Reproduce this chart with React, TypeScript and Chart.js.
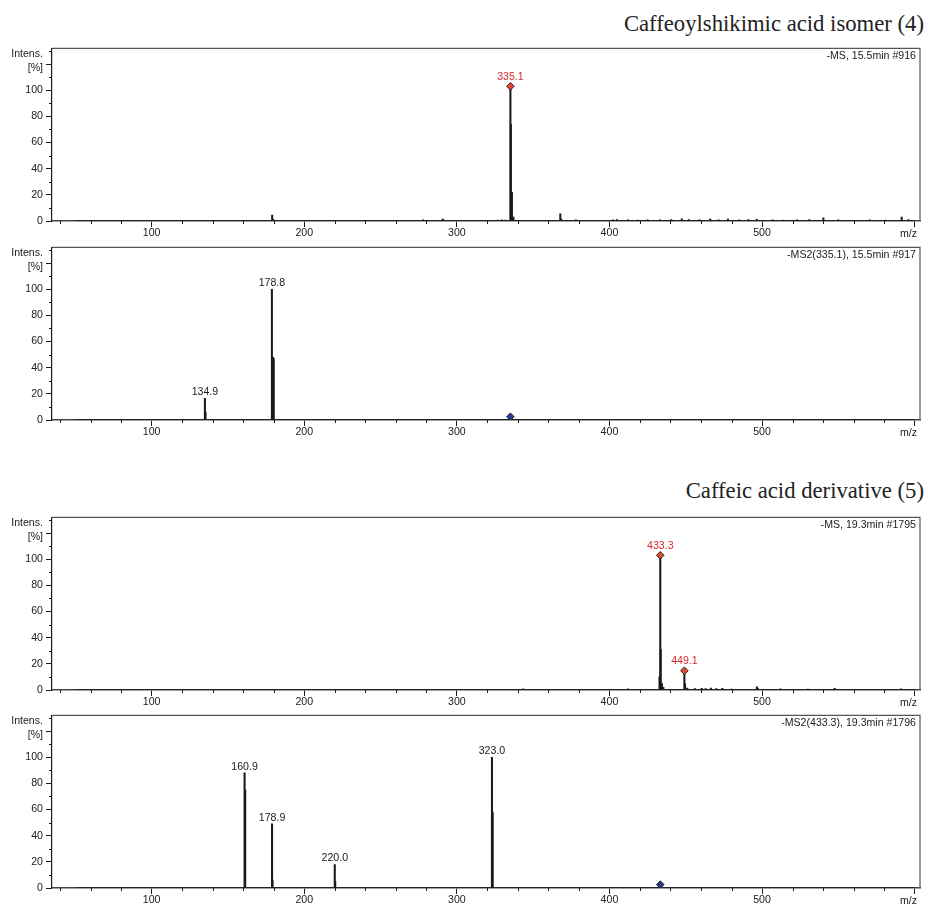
import React, { useEffect, useRef } from 'react';
import { Chart, registerables } from 'chart.js';

Chart.register(...registerables);

// ---------- data ----------
const title1 = 'Caffeoylshikimic acid isomer (4)';
const title2 = 'Caffeic acid derivative (5)';

// Panel 1: -MS, 15.5min #916
const p1Info = '-MS, 15.5min #916';
const p1Mz = [179.0, 179.6, 277.8, 290.6, 291.3, 327.0, 329.5, 331.8, 335.1, 335.4, 336.1, 337.1, 340.0, 367.8, 368.4, 378.0, 402.5, 405.0, 412.0, 418.5, 425.0, 433.0, 440.5, 447.4, 452.0, 459.0, 466.0, 471.5, 477.7, 485.0, 491.0, 496.5, 507.0, 514.0, 523.0, 531.0, 540.2, 550.0, 560.0, 570.5, 581.0, 591.5, 596.0];
const p1Int = [4.5, 1.2, 0.8, 1.5, 0.8, 0.7, 0.8, 0.7, 103, 74, 22, 3, 0.6, 5.5, 1.5, 0.8, 0.8, 1.0, 0.8, 0.7, 0.9, 0.8, 1.0, 1.6, 1.0, 0.8, 1.5, 0.9, 1.4, 0.8, 1.0, 1.2, 0.8, 0.7, 0.8, 1.0, 2.5, 0.8, 0.6, 0.8, 0.7, 3.0, 1.0];
const p1MarkMz = [335.1];
const p1MarkInt = [103];
const p1LabelMz = [335.1];
const p1LabelInt = [103];
const p1LabelText = ['335.1'];

// Panel 2: -MS2(335.1), 15.5min #917
const p2Info = '-MS2(335.1), 15.5min #917';
const p2Mz = [134.9, 135.3, 178.8, 179.5, 180.0];
const p2Int = [16.5, 6, 100, 48, 47];
const p2MarkMz = [335.1];
const p2MarkInt = [2.5];
const p2LabelMz = [134.9, 178.8];
const p2LabelInt = [16.5, 100];
const p2LabelText = ['134.9', '178.8'];

// Panel 3: -MS, 19.3min #1795
const p3Info = '-MS, 19.3min #1795';
const p3Mz = [343.5, 398.0, 412.0, 432.8, 433.3, 433.6, 434.4, 435.3, 449.1, 449.5, 451.0, 456.0, 460.5, 463.0, 466.5, 470.0, 474.0, 480.0, 487.0, 496.6, 497.2, 504.0, 512.0, 521.0, 530.0, 538.0, 547.6, 556.0, 565.0, 574.0, 582.0, 591.0, 598.0];
const p3Int = [0.8, 0.5, 0.8, 10, 103, 31, 5, 2, 14.7, 5, 1.5, 1.0, 1.2, 1.0, 1.4, 1.0, 1.2, 0.7, 0.6, 2.5, 1.2, 0.6, 0.8, 0.6, 0.7, 0.6, 1.2, 0.6, 0.6, 0.5, 0.6, 0.8, 0.6];
const p3MarkMz = [433.3, 449.1];
const p3MarkInt = [103, 14.7];
const p3LabelMz = [433.3, 449.1];
const p3LabelInt = [103, 14.7];
const p3LabelText = ['433.3', '449.1'];

// Panel 4: -MS2(433.3), 19.3min #1796
const p4Info = '-MS2(433.3), 19.3min #1796';
const p4Mz = [160.9, 161.3, 178.9, 179.2, 220.0, 220.3, 323.0, 323.5];
const p4Int = [88, 75, 49, 6, 18, 5, 100, 58];
const p4MarkMz = [433.3];
const p4MarkInt = [2.6];
const p4LabelMz = [160.9, 178.9, 220.0, 323.0];
const p4LabelInt = [88, 49, 18, 100];
const p4LabelText = ['160.9', '178.9', '220.0', '323.0'];

// scan range (baseline)
const scanMz = [50, 600];

// axes
const xMin = 34.7;
const xMax = 603.5;
const yMax = 132;
const xMajorTicks = [100, 200, 300, 400, 500, 600];
const xTickLabels = ['100', '200', '300', '400', '500', ''];
const xMinorTicks = [40, 60, 80, 120, 140, 160, 180, 220, 240, 260, 280, 320, 340, 360, 380, 420, 440, 460, 480, 520, 540, 560, 580];
const yMajorTicks = [0, 20, 40, 60, 80, 100, 120];
const yTickLabels = ['0', '20', '40', '60', '80', '100', ''];
const yMinorTicks = [10, 30, 50, 70, 90, 110, 130];

// ---------- styles ----------
const SANS = '"Liberation Sans", Arial, Helvetica, sans-serif';
const SERIF = '"Liberation Serif", "Times New Roman", serif';
const FS = 10.6;
const RED = '#d42a2a';
const RED_FILL = '#e5482c';
const NAVY_FILL = '#2b3990';
const INK = '#1a1a1a';
const PAD_TOP = 8;
const AREA_H = 174;
const XAXIS_H = 22;
const YAXIS_W = 52;
const PAD_RIGHT = 8;

type PanelCfg = {
  frameTop: number;
  info: string;
  mz: number[];
  inten: number[];
  markMz: number[];
  markInt: number[];
  markFill: string;
  labelMz: number[];
  labelInt: number[];
  labelText: string[];
  labelColor: string;
  labelOffset: number;
};

const panels: PanelCfg[] = [
  { frameTop: 47, info: p1Info, mz: p1Mz, inten: p1Int, markMz: p1MarkMz, markInt: p1MarkInt, markFill: RED_FILL, labelMz: p1LabelMz, labelInt: p1LabelInt, labelText: p1LabelText, labelColor: RED, labelOffset: 9.5 },
  { frameTop: 246, info: p2Info, mz: p2Mz, inten: p2Int, markMz: p2MarkMz, markInt: p2MarkInt, markFill: NAVY_FILL, labelMz: p2LabelMz, labelInt: p2LabelInt, labelText: p2LabelText, labelColor: INK, labelOffset: 6 },
  { frameTop: 516, info: p3Info, mz: p3Mz, inten: p3Int, markMz: p3MarkMz, markInt: p3MarkInt, markFill: RED_FILL, labelMz: p3LabelMz, labelInt: p3LabelInt, labelText: p3LabelText, labelColor: RED, labelOffset: 9.5 },
  { frameTop: 714, info: p4Info, mz: p4Mz, inten: p4Int, markMz: p4MarkMz, markInt: p4MarkInt, markFill: NAVY_FILL, labelMz: p4LabelMz, labelInt: p4LabelInt, labelText: p4LabelText, labelColor: INK, labelOffset: 6 },
];

function SpectrumPanel({ cfg }: { cfg: PanelCfg }) {
  const ref = useRef<HTMLCanvasElement | null>(null);

  useEffect(() => {
    const canvas = ref.current;
    if (!canvas) return;

    const decor = {
      id: 'decor',
      afterDraw(chart: any) {
        const { ctx, chartArea: ca, scales } = chart;
        const x = scales.x;
        const y = scales.y;
        ctx.save();
        // frame top/right
        ctx.strokeStyle = '#555';
        ctx.lineWidth = 1.2;
        ctx.beginPath();
        ctx.moveTo(ca.left, ca.top);
        ctx.lineTo(ca.right, ca.top);
        ctx.lineTo(ca.right, ca.bottom);
        ctx.stroke();
        // minor ticks
        ctx.strokeStyle = INK;
        ctx.lineWidth = 1;
        ctx.beginPath();
        for (const v of yMinorTicks) {
          const py = Math.round(y.getPixelForValue(v)) + 0.5;
          ctx.moveTo(ca.left - 3, py);
          ctx.lineTo(ca.left, py);
        }
        for (const v of xMinorTicks) {
          const px = Math.round(x.getPixelForValue(v)) + 0.5;
          ctx.moveTo(px, ca.bottom);
          ctx.lineTo(px, ca.bottom + 3);
        }
        ctx.stroke();
        // texts
        ctx.fillStyle = '#222';
        ctx.font = `${FS}px ${SANS}`;
        ctx.textBaseline = 'middle';
        ctx.textAlign = 'right';
        ctx.fillText('Intens.', ca.left - 9, ca.top + 5.5);
        ctx.fillText('[%]', ca.left - 9, ca.top + 19.7);
        ctx.fillText('m/z', ca.right - 3, ca.bottom + 12.6);
        ctx.fillText(cfg.info, ca.right - 4, ca.top + 8);
        // peak labels
        ctx.textAlign = 'center';
        ctx.fillStyle = cfg.labelColor;
        cfg.labelText.forEach((t, i) => {
          const px = x.getPixelForValue(cfg.labelMz[i]);
          const py = y.getPixelForValue(cfg.labelInt[i]);
          ctx.fillText(t, px, py - cfg.labelOffset);
        });
        ctx.restore();
      },
    };

    const chart = new Chart(canvas, {
      type: 'bar',
      data: {
        datasets: [
          {
            type: 'scatter',
            data: cfg.markMz.map((m, i) => ({ x: m, y: cfg.markInt[i] })),
            pointStyle: 'rectRot',
            pointRadius: 3.8,
            backgroundColor: cfg.markFill,
            borderColor: '#222',
            borderWidth: 1,
            order: 0,
          } as any,
          {
            type: 'bar',
            data: cfg.mz.map((m, i) => ({ x: m, y: cfg.inten[i] })),
            backgroundColor: INK,
            borderWidth: 0,
            barThickness: 1.4,
            grouped: false,
            order: 1,
          } as any,
          {
            type: 'line',
            data: scanMz.map((m) => ({ x: m, y: 0 })),
            borderColor: INK,
            borderWidth: 1.6,
            pointRadius: 0,
            order: 2,
          } as any,
        ],
      },
      options: {
        responsive: false,
        animation: false,
        devicePixelRatio: 1,
        events: [],
        layout: { padding: { top: PAD_TOP, right: PAD_RIGHT, left: 0, bottom: 0 } },
        plugins: {
          legend: { display: false },
          tooltip: { enabled: false },
          title: { display: false },
        },
        scales: {
          x: {
            type: 'linear',
            min: xMin,
            max: xMax,
            offset: false,
            afterBuildTicks: (s: any) => {
              s.ticks = xMajorTicks.map((v) => ({ value: v }));
            },
            afterFit: (s: any) => {
              s.height = XAXIS_H;
            },
            ticks: {
              autoSkip: false,
              maxRotation: 0,
              padding: 0,
              color: '#222',
              font: { family: SANS, size: FS },
              callback: (_v: any, i: number) => xTickLabels[i],
            },
            grid: {
              display: true,
              offset: false,
              drawOnChartArea: false,
              drawTicks: true,
              tickLength: 6,
              color: INK,
              tickColor: INK,
              tickWidth: 1,
            },
            border: { display: true, color: '#444', width: 1.5 },
          },
          y: {
            type: 'linear',
            min: 0,
            max: yMax,
            afterBuildTicks: (s: any) => {
              s.ticks = yMajorTicks.map((v) => ({ value: v }));
            },
            afterFit: (s: any) => {
              s.width = YAXIS_W;
            },
            ticks: {
              autoSkip: false,
              padding: 3,
              color: '#222',
              font: { family: SANS, size: FS },
              callback: (_v: any, i: number) => yTickLabels[i],
            },
            grid: {
              display: true,
              drawOnChartArea: false,
              drawTicks: true,
              tickLength: 6,
              color: INK,
              tickColor: INK,
              tickWidth: 1,
            },
            border: { display: true, color: INK, width: 1.2 },
          },
        },
      } as any,
      plugins: [decor],
    });

    return () => chart.destroy();
  }, [cfg]);

  const h = PAD_TOP + AREA_H + XAXIS_H;
  return (
    <canvas
      ref={ref}
      width={928}
      height={h}
      style={{ position: 'absolute', left: 0, top: cfg.frameTop - PAD_TOP, width: 928, height: h }}
    />
  );
}

export default function App() {
  const titleStyle: React.CSSProperties = {
    position: 'absolute',
    right: 4,
    fontFamily: SERIF,
    fontSize: 22.7,
    lineHeight: '22.7px',
    color: '#222',
    whiteSpace: 'nowrap',
  };
  return (
    <div style={{ position: 'absolute', left: 0, top: 0, width: 928, height: 904, background: '#fff', overflow: 'hidden' }}>
      <div style={{ ...titleStyle, top: 13.3 }}>{title1}</div>
      <div style={{ ...titleStyle, top: 480.3 }}>{title2}</div>
      {panels.map((p, i) => (
        <SpectrumPanel key={i} cfg={p} />
      ))}
    </div>
  );
}
